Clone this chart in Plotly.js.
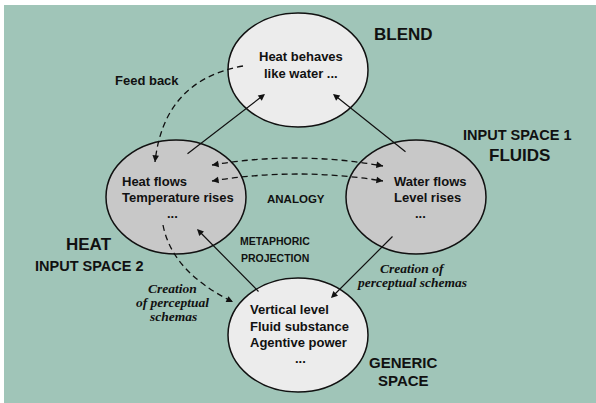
<!DOCTYPE html>
<html>
<head>
<meta charset="utf-8">
<script src="https://cdn.plot.ly/plotly-3.0.1.min.js"></script>
<style>html,body{margin:0;padding:0;background:#fff;}#chart{width:596px;height:403px;}</style>
</head>
<body>
<div id="chart"></div>
<script>
// ---- diagram content ----
const spaceTitles = ['BLEND', 'INPUT SPACE 1', 'FLUIDS', 'HEAT', 'INPUT SPACE 2', 'GENERIC', 'SPACE'];
const blendContent = ['Heat behaves', 'like water ...'];
const fluidsContent = ['Water flows', 'Level rises', '...'];
const heatContent = ['Heat flows', 'Temperature rises', '...'];
const genericContent = ['Vertical level', 'Fluid substance', 'Agentive power', '...'];
const relationLabels = ['Feed back', 'ANALOGY', 'METAPHORIC', 'PROJECTION'];
const schemaRight = ['Creation of', 'perceptual schemas'];
const schemaLeft = ['Creation', 'of perceptual', 'schemas'];

// node centres (diagram coordinates, y downward)
const nodeNames = ['blend', 'fluids', 'heat', 'generic'];
const nodeCx = [298, 416, 176, 298];
const nodeCy = [70, 197, 197, 335];

const SANS = 'Liberation Sans, Arial, Helvetica, sans-serif';
const SERIF = 'Liberation Serif, Times New Roman, serif';
const INK = '#111111';

const shapes = [];
const annotations = [];

// background panel
shapes.push({type:'rect', xref:'x', yref:'y', x0:4, x1:600, y0:5, y1:410,
  fillcolor:'#a0c5b8', line:{width:0}, layer:'below'});

// ellipses
const fills = {blend:'#ececec', fluids:'#c8c8c8', heat:'#c8c8c8', generic:'#ececec'};
const RX = 70, RY = 57;
nodeNames.forEach((n, i) => {
  shapes.push({type:'circle', xref:'x', yref:'y',
    x0:nodeCx[i]-RX, x1:nodeCx[i]+RX, y0:nodeCy[i]-RY, y1:nodeCy[i]+RY,
    fillcolor:fills[n], line:{color:INK, width:1.5}, layer:'above'});
});

function txt(text, x, y, opts) {
  opts = opts || {};
  annotations.push({text:text, x:x, y:y, xref:'x', yref:'y', showarrow:false,
    xanchor:opts.anchor || 'center', yanchor:'middle', align:opts.anchor || 'center',
    font:{family:opts.family || SANS, size:opts.size || 13, color:INK,
      weight:opts.weight || 'bold', style:opts.style || 'normal'}});
}

// space titles
txt(spaceTitles[0], 403, 34, {size:17});
txt(spaceTitles[1], 517, 135, {size:14.5});
txt(spaceTitles[2], 519, 155, {size:17});
txt(spaceTitles[3], 89, 244, {size:17});
txt(spaceTitles[4], 89, 266, {size:14.5});
txt(spaceTitles[5], 403, 362, {size:15});
txt(spaceTitles[6], 403, 380, {size:15});

// node contents
txt(blendContent[0], 301, 56);
txt(blendContent[1], 301, 73);
txt(heatContent[0], 120, 181, {anchor:'left'});
txt(heatContent[1], 120, 197, {anchor:'left'});
txt(heatContent[2], 172, 213);
txt(fluidsContent[0], 392, 181, {anchor:'left'});
txt(fluidsContent[1], 392, 197, {anchor:'left'});
txt(fluidsContent[2], 420, 213);
txt(genericContent[0], 248, 309, {anchor:'left'});
txt(genericContent[1], 248, 326, {anchor:'left'});
txt(genericContent[2], 248, 342, {anchor:'left'});
txt(genericContent[3], 300, 358);

// relation labels
txt(relationLabels[0], 147, 80);
txt(relationLabels[1], 296, 199, {size:11.5});
txt(relationLabels[2], 275, 241, {size:10.5});
txt(relationLabels[3], 275, 258, {size:10.5});

const serifOpts = {family:SERIF, size:13.5, style:'italic', weight:'bold'};
txt(schemaRight[0], 412, 268, serifOpts);
txt(schemaRight[1], 412, 282, serifOpts);
txt(schemaLeft[0], 172, 288, serifOpts);
txt(schemaLeft[1], 172, 302, serifOpts);
txt(schemaLeft[2], 173, 316, serifOpts);

// arrows
function arrow(x0, y0, x1, y1) {
  annotations.push({text:'', x:x1, y:y1, ax:x0, ay:y0, xref:'x', yref:'y', axref:'x', ayref:'y',
    showarrow:true, arrowhead:2, arrowsize:1.1, arrowwidth:1.2, arrowcolor:INK,
    standoff:0, startstandoff:0});
}
// solid projection arrows
arrow(186, 155, 265, 94);
arrow(407, 153, 333, 94);
arrow(260, 293, 197, 229);
arrow(394, 235, 331, 298);

// dashed curves (quadratic) with arrowheads
function dashedCurve(p0, c, p1, headStart, headEnd) {
  shapes.push({type:'path', xref:'x', yref:'y',
    path:`M ${p0[0]} ${p0[1]} Q ${c[0]} ${c[1]} ${p1[0]} ${p1[1]}`,
    line:{color:INK, width:1.3, dash:'6px,4px'}, layer:'above'});
  const L = 8;
  if (headEnd) {
    const dx = p1[0]-c[0], dy = p1[1]-c[1], d = Math.hypot(dx, dy);
    arrow(p1[0]-dx/d*L, p1[1]-dy/d*L, p1[0], p1[1]);
  }
  if (headStart) {
    const dx = p0[0]-c[0], dy = p0[1]-c[1], d = Math.hypot(dx, dy);
    arrow(p0[0]-dx/d*L, p0[1]-dy/d*L, p0[0], p0[1]);
  }
}
dashedCurve([243, 66], [164, 80], [155, 162], false, true);   // feed back
dashedCurve([212, 165], [297, 150.5], [383, 166], true, true); // analogy 1
dashedCurve([212, 181], [297, 167], [383, 181], true, true);   // analogy 2
dashedCurve([163, 225], [172, 272], [233, 302], false, true);  // perceptual schemas

const layout = {
  width:596, height:403,
  margin:{l:0, r:0, t:0, b:0},
  paper_bgcolor:'#ffffff', plot_bgcolor:'#ffffff',
  xaxis:{range:[0, 596], visible:false, fixedrange:true},
  yaxis:{range:[403, 0], visible:false, fixedrange:true},
  shapes:shapes, annotations:annotations, showlegend:false
};
Plotly.newPlot('chart', [], layout, {staticPlot:true, displayModeBar:false});
</script>
</body>
</html>
